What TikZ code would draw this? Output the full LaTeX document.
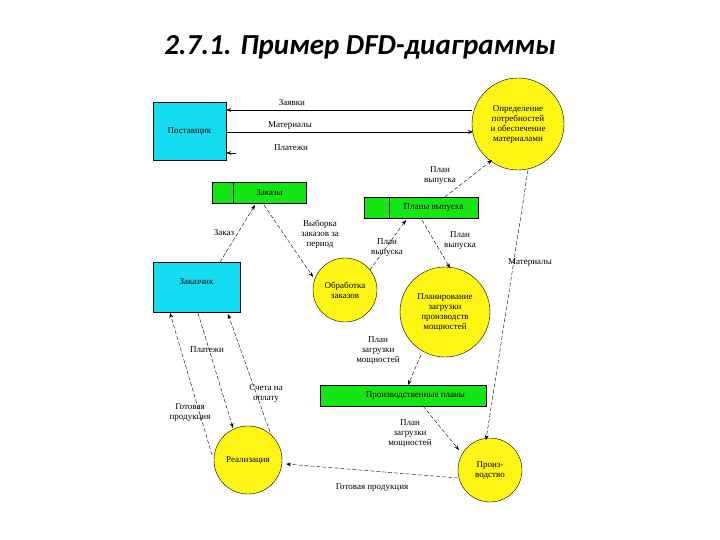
\documentclass[tikz,border=0pt]{standalone}
\usepackage{fontspec}
\setmainfont{Liberation Serif}
\newfontfamily\titlefont{Carlito}
\usetikzlibrary{arrows.meta}
\definecolor{entc}{RGB}{20,220,240}
\definecolor{procc}{RGB}{255,245,20}
\definecolor{storec}{RGB}{20,230,20}
\begin{document}
\begin{tikzpicture}[x=1pt,y=-1pt,
 ent/.style={draw,fill=entc,minimum width=#1,align=center,font=\fontsize{9}{10}\selectfont},
 proc/.style={draw,circle,fill=procc,inner sep=0pt,minimum size=#1,align=center,font=\fontsize{9}{10}\selectfont},
 store/.style={draw,fill=storec,minimum height=21pt,inner sep=0pt,font=\fontsize{9}{10}\selectfont},
 flow/.style={-{Stealth[length=5pt]},dashed,dash pattern=on 4pt off 2pt,thin},
 sol/.style={-{Stealth[length=5pt]},thin},
 lbl/.style={font=\fontsize{9}{10}\selectfont,align=center,inner sep=1pt}]
\useasboundingbox (0,0) rectangle (720,540);
\node[font=\titlefont\bfseries\itshape\fontsize{29}{31}\selectfont] (title) at (360,47) {2.7.1. Пример DFD-диаграммы};
\node[ent=73pt,minimum height=58pt] (sup) at (189.5,131) {Поставщик};
\node[ent=87pt,minimum height=50pt,anchor=north] (cust) at (196.5,262) {\raisebox{12pt}{Заказчик}};
\node[proc=92pt] (det) at (518,124) {Определение\\потребностей\\и обеспечение\\материалами};
\node[proc=64pt] (ord) at (345,290) {Обработка\\заказов};
\node[proc=90pt] (plan) at (445,312) {Планирование\\загрузки\\производств\\мощностей};
\node[proc=68pt] (real) at (248,460) {Реализация};
\node[proc=64pt] (prod) at (490,470) {Произ-\\водство};
\node[store,minimum width=94pt] (zak) at (259,192.5) {\hspace*{21pt}Заказы};
\draw (233,182) -- (233,203);
\node[store,minimum width=114pt] (pv) at (421,207.5) {\hspace*{25pt}Планы выпуска};
\draw (389,197) -- (389,218);
\node[store,minimum width=166pt] (pp) at (403,395.5) {\hspace*{25pt}Производственные планы};
% supplier flows
\draw[sol] (det.west |- 0,110) -- (sup.east |- 0,110);
\node[lbl] (l1) at (292,103) {Заявки};
\draw[sol] (sup.east |- 0,132) -- (473,132);
\node[lbl] (l2) at (290,126) {Материалы};
\coordinate (pa) at (236,153);
\draw[sol] (pa) -- (sup.east |- 0,153);
\node[lbl] (l3) at (291,148) {Платежи};
% dashed flows
\draw[flow] (220,262) -- (255,205);
\node[lbl] (l4) at (224,233) {Заказ};
\draw[flow] (264,205) -- (313,277);
\node[lbl] (l5) at (320,234) {Выборка\\заказов за\\период};
\draw[flow] (370,270) -- (406,220);
\node[lbl] (l6) at (387,248) {План\\выпуска};
\draw[flow] (422,220) -- (450,268);
\node[lbl] (l7) at (460,241) {План\\выпуска};
\draw[flow] (445,197) -- (492,160);
\node[lbl] (l8) at (440,176) {План\\выпуска};
\draw[flow] (528,170) -- (486,440);
\node[lbl] (l9) at (530,263) {Материалы};
\draw[flow] (421,355) -- (408,385);
\node[lbl] (l10) at (378,350) {План\\загрузки\\мощностей};
\draw[flow] (423,406) -- (459,450);
\node[lbl] (l11) at (410,433) {План\\загрузки\\мощностей};
\draw[flow] (458,478) -- (286,464);
\node[lbl] (l12) at (372,488) {Готовая продукция};
\draw[flow] (212,455) -- (170,313);
\node[lbl] (l13) at (190,413) {Готовая\\продукция};
\draw[flow] (198,313) -- (233,428);
\node[lbl] (l14) at (207,350) {Платежи};
\draw[flow] (270,432) -- (228,314);
\node[lbl] (l15) at (266,393) {Счета на\\оплату};
\end{tikzpicture}
\end{document}
